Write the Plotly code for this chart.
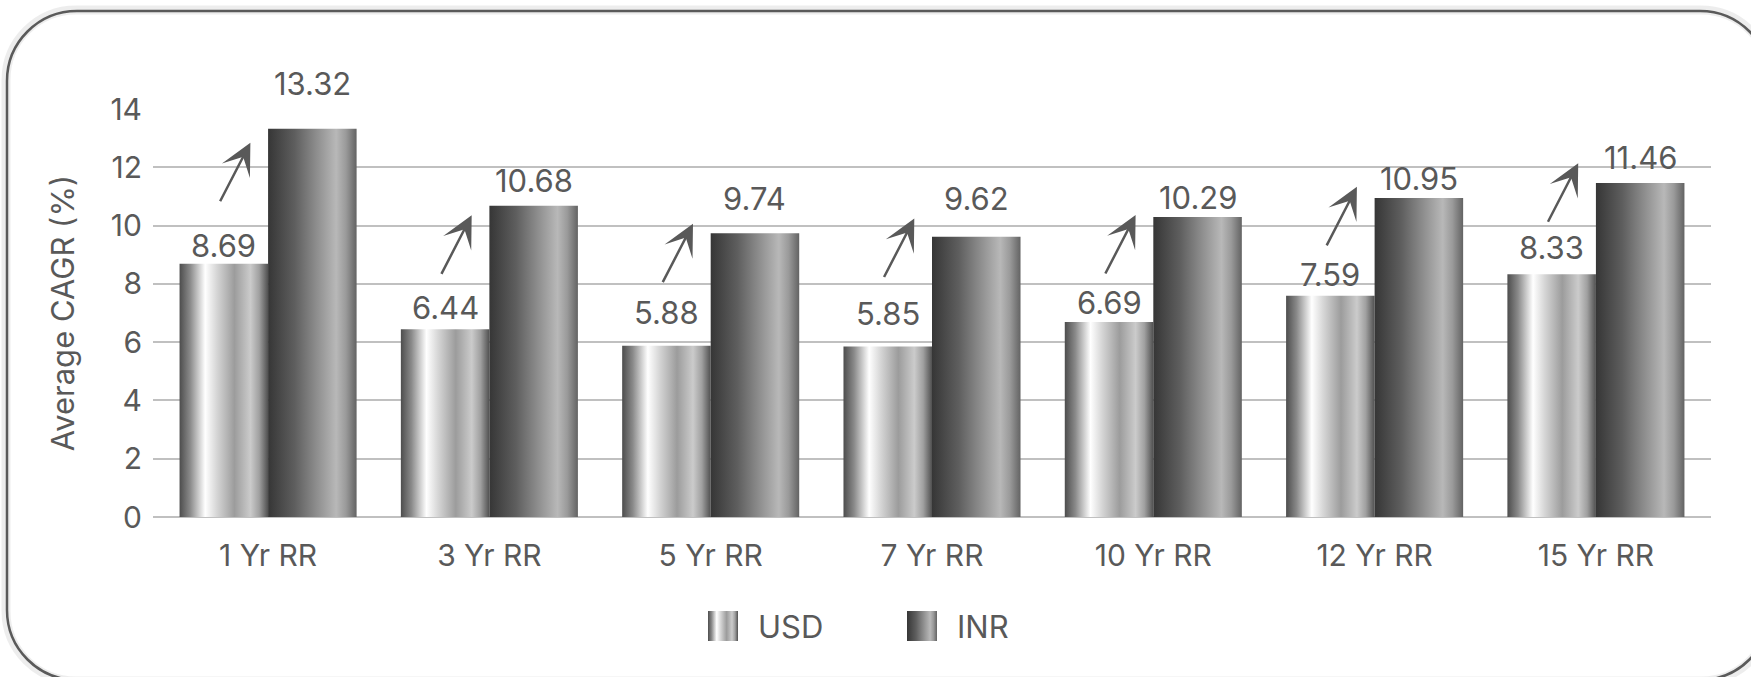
import plotly.graph_objects as go

# ---------------- data ----------------
categories = ["1 Yr RR", "3 Yr RR", "5 Yr RR", "7 Yr RR", "10 Yr RR", "12 Yr RR", "15 Yr RR"]
usd = [8.69, 6.44, 5.88, 5.85, 6.69, 7.59, 8.33]
inr = [13.32, 10.68, 9.74, 9.62, 10.29, 10.95, 11.46]
series_names = ["USD", "INR"]
y_ticks = [0, 2, 4, 6, 8, 10, 12, 14]

# ---------------- style ----------------
usd_label_shift = [18, 22, 33, 33, 20, 21, 27]      # px above bar top
inr_label_shift = [45, 25, 35, 38, 20, 19, 26]
arrow_head_shift = [121, 114, 122, 128, 107, 109, 111]
BAR_W = 0.4
FONT = "Inter"
TXT = "#595959"

USD_SCALE = [[0, "#4d4d4d"], [0.12, "#8a8a8a"], [0.29, "#ffffff"], [0.42, "#d6d6d6"],
             [0.62, "#9c9c9c"], [0.8, "#cbcbcb"], [0.9, "#a0a0a0"], [1, "#505050"]]
INR_SCALE = [[0, "#363636"], [0.3, "#5e5e5e"], [0.55, "#8e8e8e"], [0.77, "#b8b8b8"],
             [0.88, "#9a9a9a"], [1, "#636363"]]
SCALES = {"USD": USD_SCALE, "INR": INR_SCALE}
MIDS = {"USD": "#b0b0b0", "INR": "#7a7a7a"}

# figure geometry (px)
FW, FH = 1751, 677
ML, MR, MT, MB = 153, 40, 109, 10
PW, PH = FW - ML - MR, FH - MT - MB
PLOT_BOTTOM = 517                      # px of y = 0
Y_DOM0 = (FH - MB - PLOT_BOTTOM) / PH
LEG_CX, LEG_STEP, LEG_SW, LEG_CY = 860, 199, 30, 626

fig = go.Figure()

for i, cat in enumerate(categories):
    for name, vals, x0 in (("USD", usd, i - BAR_W), ("INR", inr, i)):
        v = vals[i]
        fig.add_trace(go.Scatter(
            x=[x0, x0, x0 + BAR_W, x0 + BAR_W, x0],
            y=[0, v, v, 0, 0],
            mode="lines", line=dict(width=0), fill="toself",
            fillcolor=MIDS[name],
            fillgradient=dict(type="horizontal", colorscale=SCALES[name]),
            name=name, legendgroup=name, showlegend=False,
            hoverinfo="text", hovertext=f"{cat} {name}: {v}",
        ))

annotations = []
for i in range(len(categories)):
    annotations.append(dict(x=i - BAR_W / 2, y=usd[i], text=f"{usd[i]:.2f}", showarrow=False,
                            yanchor="middle", yshift=usd_label_shift[i],
                            font=dict(family=FONT, size=31, color=TXT)))
    annotations.append(dict(x=i + BAR_W / 2, y=inr[i], text=f"{inr[i]:.2f}", showarrow=False,
                            yanchor="middle", yshift=inr_label_shift[i],
                            font=dict(family=FONT, size=31, color=TXT)))
    annotations.append(dict(x=i - 0.08, y=usd[i], text="", showarrow=True,
                            yshift=arrow_head_shift[i], ax=-31, ay=60,
                            arrowhead=3, arrowsize=2.1, arrowwidth=2.5, arrowcolor=TXT,
                            standoff=0, startstandoff=0))

# custom legend (gradient swatches) on an auxiliary pixel-scaled axis pair
n = len(series_names)
for k, name in enumerate(series_names):
    sx = LEG_CX - LEG_STEP * n / 2 + LEG_STEP * k + 47
    fig.add_trace(go.Scatter(
        x=[sx, sx, sx + LEG_SW, sx + LEG_SW, sx], y=[0, 1, 1, 0, 0],
        xaxis="x2", yaxis="y2", mode="lines", line=dict(width=0), fill="toself",
        fillcolor=MIDS[name], fillgradient=dict(type="horizontal", colorscale=SCALES[name]),
        name=name, showlegend=False, hoverinfo="skip"))
    annotations.append(dict(xref="x2", yref="y2", x=sx + LEG_SW + 18, y=0.5, text=name,
                            showarrow=False, xanchor="left", yanchor="middle",
                            font=dict(family=FONT, size=31, color=TXT)))

# rounded frame (pixel geometry converted to paper coords)
def P(x, y):
    return f"{(x - ML) / PW:.5f},{(FH - MB - y) / PH:.5f}"
def rrect(x0, y0, x1, y1, r):
    k = 0.5523 * r
    return (f"M{P(x0 + r, y0)} L{P(x1 - r, y0)} C{P(x1 - r + k, y0)} {P(x1, y0 + r - k)} {P(x1, y0 + r)} "
            f"L{P(x1, y1 - r)} C{P(x1, y1 - r + k)} {P(x1 - r + k, y1)} {P(x1 - r, y1)} "
            f"L{P(x0 + r, y1)} C{P(x0 + r - k, y1)} {P(x0, y1 - r + k)} {P(x0, y1 - r)} "
            f"L{P(x0, y0 + r)} C{P(x0, y0 + r - k)} {P(x0 + r - k, y0)} {P(x0 + r, y0)} Z")

shapes = [
    dict(type="path", xref="paper", yref="paper", path=rrect(6, 10, 1771, 681, 70),
         line=dict(color="rgba(0,0,0,0.07)", width=9), layer="below"),
    dict(type="path", xref="paper", yref="paper", path=rrect(7, 11, 1770, 680, 70),
         line=dict(color="#5a5a5a", width=2.5), layer="above"),
]

leg_y0 = (FH - MB - (LEG_CY + LEG_SW / 2)) / PH
leg_y1 = (FH - MB - (LEG_CY - LEG_SW / 2)) / PH

fig.update_layout(
    width=FW, height=FH,
    margin=dict(l=ML, r=MR, t=MT, b=MB, autoexpand=False),
    paper_bgcolor="white", plot_bgcolor="white",
    font=dict(family=FONT, color=TXT, size=30),
    showlegend=False,
    annotations=annotations,
    shapes=shapes,
    xaxis=dict(range=[-0.52, len(categories) - 0.48], tickmode="array",
               tickvals=list(range(len(categories))), ticktext=categories,
               showgrid=False, zeroline=False, showline=False, ticks="", automargin=False,
               ticklabelstandoff=18, tickfont=dict(size=30, color=TXT), fixedrange=True),
    yaxis=dict(domain=[Y_DOM0, 1], range=[0, 14], tickmode="array", tickvals=y_ticks,
               showgrid=True, gridcolor="#c0c0c0", gridwidth=2,
               zeroline=True, zerolinecolor="#c0c0c0", zerolinewidth=2,
               showline=False, ticks="", ticklabelstandoff=10, automargin=False,
               tickfont=dict(size=30, color=TXT),
               title=dict(text="Average CAGR (%)", standoff=26, font=dict(size=31, color=TXT)),
               fixedrange=True),
    xaxis2=dict(domain=[0, 1], range=[ML, FW - MR], anchor="y2", visible=False,
                automargin=False, fixedrange=True),
    yaxis2=dict(domain=[leg_y0, leg_y1], range=[0, 1], anchor="x2", visible=False,
                automargin=False, fixedrange=True),
)

fig.write_html("out.html")
